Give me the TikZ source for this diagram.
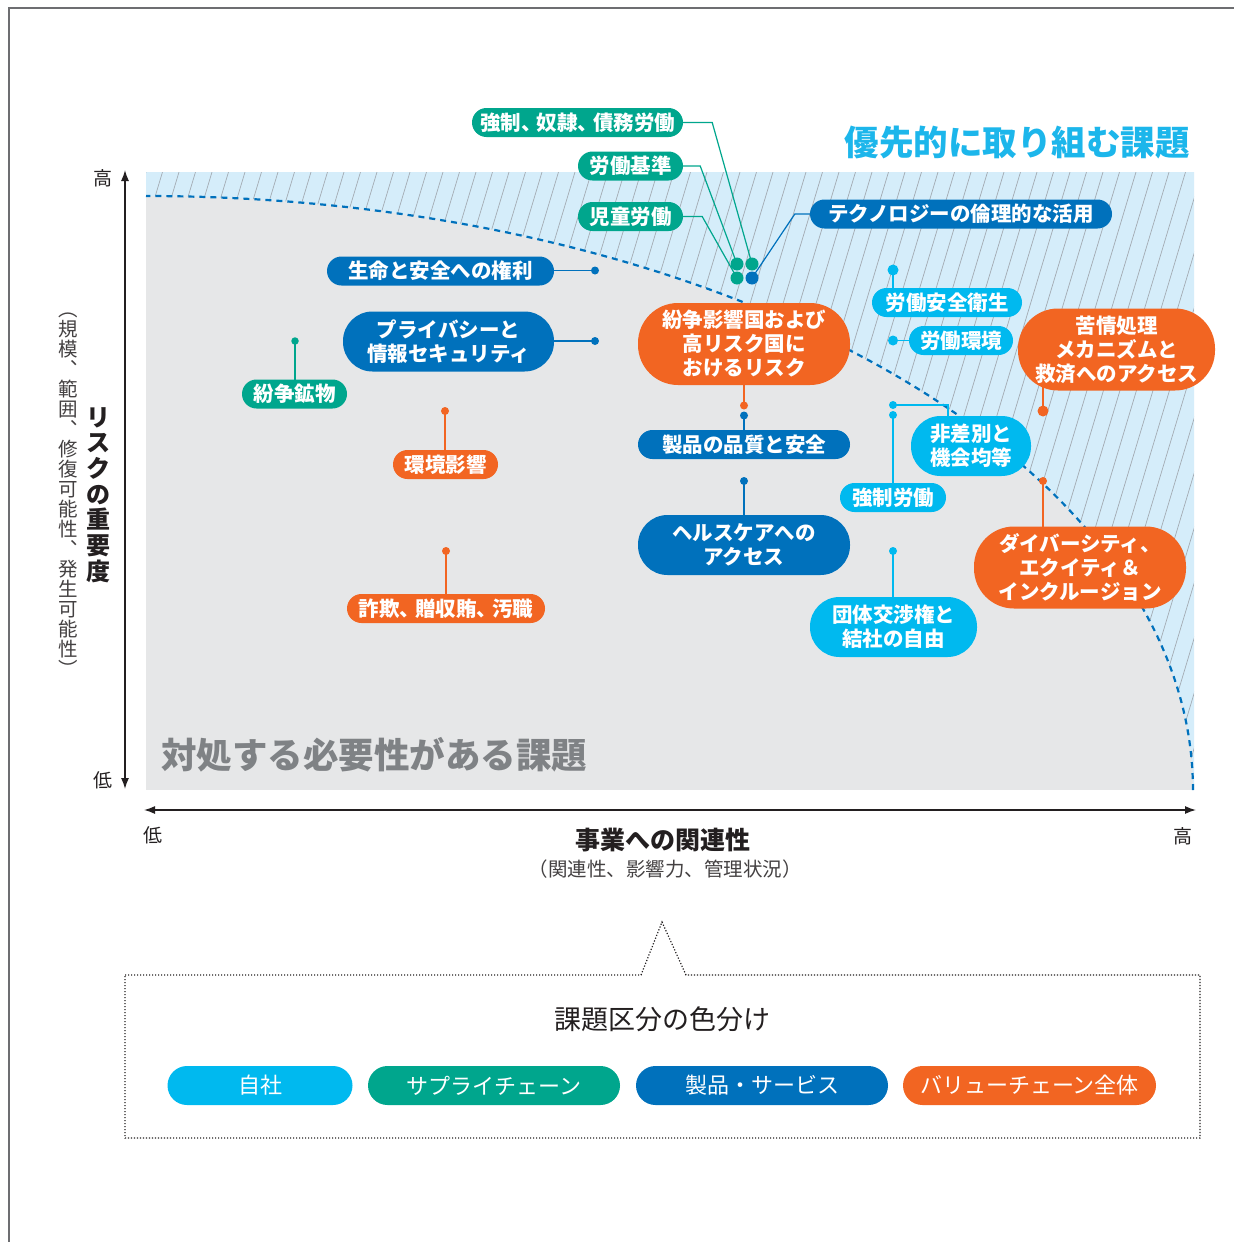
\documentclass[tikz,border=0pt]{standalone}
\usepackage{fontspec}
\setmainfont{Noto Sans CJK JP}
\usetikzlibrary{arrows.meta}
\definecolor{cyanc}{HTML}{00B9EF}
\definecolor{greenc}{HTML}{00A68D}
\definecolor{bluec}{HTML}{0071BC}
\definecolor{orangec}{HTML}{F26522}
\definecolor{plotgray}{HTML}{E6E7E8}
\definecolor{lightblue}{HTML}{D5EDFA}
\definecolor{hatchc}{HTML}{A3ABB3}
\definecolor{titlec}{HTML}{1CB6EB}
\definecolor{graytext}{HTML}{7F8285}
\definecolor{ink}{HTML}{231F20}
\definecolor{framec}{HTML}{6D6E71}
\pgfdeclarelayer{back}
\pgfdeclarelayer{mid}
\pgfsetlayers{back,mid,main}
\tikzset{
  pillA/.style={fill=#1, text=white, rounded corners=14.5pt, minimum height=29pt, inner sep=0pt,
    font=\fontsize{20.5}{24}\selectfont\bfseries, align=center},
  pillB/.style={fill=#1, text=white, rounded corners=29.5pt, minimum height=60pt, inner sep=0pt,
    font=\fontsize{20.5}{24}\selectfont\bfseries, align=center},
  pillC/.style={fill=#1, text=white, rounded corners=40pt, minimum height=82pt, inner sep=0pt,
    font=\fontsize{20.5}{24}\selectfont\bfseries, align=center},
  legpill/.style={fill=#1, text=white, rounded corners=19.5pt, minimum height=39pt, inner sep=0pt,
    font=\fontsize{22}{24}\selectfont},
  dotn/.style={circle, fill=#1, inner sep=0pt, minimum size=8pt},
  conn/.style={draw=#1, line width=1.2pt},
  axisline/.style={draw=ink, line width=1.4pt, {Latex[length=11pt,width=8pt]}-{Latex[length=11pt,width=8pt]}},
  axlab/.style={text=ink, inner sep=0pt, font=\fontsize{19}{20}\selectfont},
}
\begin{document}
\begin{tikzpicture}[x=1pt,y=-1pt]
\useasboundingbox (0,0) rectangle (1234,1242);

% ---------- background of the plot ----------
\begin{pgfonlayer}{back}
  \fill[white] (0,0) rectangle (1234,1242);
  \fill[plotgray] (146,172) rectangle (1194,790);
  \fill[lightblue] (146,172) -- (1194,172) -- (1194,790) --
     plot[domain=0:90, samples=90] ({146+1047*cos(\x)},{790-594*sin(\x)}) -- cycle;
  \begin{scope}
    \clip (146,172) -- (1194,172) -- (1194,790) --
     plot[domain=0:90, samples=90] ({146+1047*cos(\x)},{790-594*sin(\x)}) -- cycle;
    \foreach \i in {-1,...,76}{
      \draw[hatchc, line width=0.7pt] ({146+\i*16.5},172) -- ({146+\i*16.5-0.3*620},792);
    }
  \end{scope}
  \draw[bluec, line width=2.2pt, dash pattern=on 6pt off 5pt]
     plot[domain=0:90, samples=90] ({146+1047*cos(\x)},{790-594*sin(\x)});
  % frame
  \draw[framec, line width=1.5pt] (9,1242) -- (9,8) -- (1234,8);
\end{pgfonlayer}

% ---------- titles ----------
\node[text=titlec, inner sep=0pt, font=\fontsize{34.5}{40}\selectfont\bfseries] (ttl) at (1017,143) {優先的に取り組む課題};
\node[text=graytext, inner sep=0pt, anchor=west, font=\fontsize{35.5}{40}\selectfont\bfseries] (ttl2) at (161,755) {対処する必要性がある課題};

% ---------- axes ----------
\coordinate (ytop) at (125,170);
\coordinate (ybot) at (125,789);
\coordinate (xl) at (144,810);
\coordinate (xr) at (1196,810);
\draw[axisline] (ybot) -- (ytop);
\draw[axisline] (xl) -- (xr);
\node[axlab] (yhi) at (103,178) {高};
\node[axlab] (ylo) at (103,780) {低};
\node[axlab] (xlo) at (153,835) {低};
\node[axlab] (xhi) at (1183,836) {高};
\node[text=ink, inner sep=0pt, align=center, font=\fontsize{24}{25.7}\selectfont\bfseries] (ylab) at (98,495)
  {リ\\ス\\ク\\の\\重\\要\\度};
\node[text=ink!85, inner sep=0pt, align=center, font=\fontsize{19.5}{20}\selectfont] (ylab2) at (68,495)
  {︵\\規\\模\\︑\\範\\囲\\︑\\修\\復\\可\\能\\性\\︑\\発\\生\\可\\能\\性\\︶};
\node[text=ink, inner sep=0pt, font=\fontsize{25}{28}\selectfont\bfseries] (xlab) at (663,840) {事業への関連性};
\node[text=ink!85, inner sep=0pt, font=\fontsize{19.5}{22}\selectfont] (xlab2) at (665,869) {（関連性、影響力、管理状況）};

% ---------- issue pills ----------
\node[pillA=greenc, minimum width=211pt] (p1) at (577.5,122.5) {強制、\kern-5pt奴隷、\kern-5pt債務労働};
\node[pillA=greenc, minimum width=105pt] (p2) at (630.5,166) {労働基準};
\node[pillA=greenc, minimum width=105pt] (p3) at (630.5,216.5) {児童労働};
\node[pillA=bluec, minimum width=302pt] (p4) at (961,214) {テクノロジーの倫理的な活用};
\node[pillA=bluec, minimum width=227pt] (p5) at (440.5,271) {生命と安全への権利};
\node[pillB=bluec, minimum width=211pt] (p6) at (448.5,341.5) {プライバシーと\\情報セキュリティ};
\node[pillA=greenc, minimum width=105pt] (p7) at (294.5,394) {紛争鉱物};
\node[pillA=orangec, minimum width=105pt] (p8) at (445.5,464.5) {環境影響};
\node[pillA=orangec, minimum width=198pt] (p9) at (446,608.5) {詐欺、\kern-5pt贈収賄、\kern-5pt汚職};
\node[pillC=orangec, minimum width=212pt] (p10) at (744,344) {紛争影響国および\\高リスク国に\\おけるリスク};
\node[pillA=bluec, minimum width=212pt] (p11) at (744,444.5) {製品の品質と安全};
\node[pillB=bluec, minimum width=212pt] (p12) at (744,545) {ヘルスケアへの\\アクセス};
\node[pillA=cyanc, minimum width=150pt] (p13) at (947,302.5) {労働安全衛生};
\node[pillA=cyanc, minimum width=104pt] (p14) at (961,340.5) {労働環境};
\node[pillB=cyanc, minimum width=120pt] (p15) at (971,446) {非差別と\\機会均等};
\node[pillA=cyanc, minimum width=106pt] (p16) at (893,497.5) {強制労働};
\node[pillB=cyanc, minimum width=167pt] (p17) at (893.5,627) {団体交渉権と\\結社の自由};
\node[pillC=orangec, minimum width=197pt] (p18) at (1116.5,349.5) {苦情処理\\メカニズムと\\救済へのアクセス};
\node[pillC=orangec, minimum width=212pt] (p19) at (1080,567.5) {ダイバーシティ、\\エクイティ＆\\インクルージョン};

% ---------- dots ----------
\node[dotn=greenc, minimum size=13pt] (dtl) at (737,264) {};
\node[dotn=greenc, minimum size=13pt] (dtr) at (752,264) {};
\node[dotn=greenc, minimum size=13pt] (dbl) at (737,278) {};
\node[dotn=bluec, minimum size=13pt] (dbr) at (752,278) {};
\node[dotn=bluec] (d5) at (595,270.5) {};
\node[dotn=bluec] (d6) at (595,341) {};
\node[dotn=greenc, minimum size=7.5pt] (d7) at (295,341) {};
\node[dotn=orangec] (d8) at (445,411) {};
\node[dotn=orangec] (d9) at (446,551) {};
\node[dotn=orangec] (d10) at (744,405.5) {};
\node[dotn=bluec] (d11) at (744,415.5) {};
\node[dotn=bluec] (d12) at (744,481) {};
\node[dotn=cyanc, minimum size=11pt] (d13) at (893,270) {};
\node[dotn=cyanc, minimum size=10pt] (d14) at (893,340.5) {};
\node[dotn=cyanc] (d15) at (893,405) {};
\node[dotn=cyanc] (d16) at (893,415) {};
\node[dotn=cyanc] (d17) at (893,551) {};
\node[dotn=orangec, minimum size=11pt] (d18) at (1043,411) {};
\node[dotn=orangec] (d19) at (1043,481) {};
\coordinate (k15) at (948,405);

% ---------- connectors ----------
\begin{pgfonlayer}{mid}
  \draw[conn=greenc] (p1.east) -- ++(29,0) -- (dtr.center);
  \draw[conn=greenc] (p2.east) -- ++(17,0) -- (dtl.center);
  \draw[conn=greenc] (p3.east) -- ++(19,0) -- (dbl.center);
  \draw[conn=bluec] (p4.west) -- ++(-15,0) -- (dbr.center);
  \draw[conn=bluec] (d5.center) -- (d5 -| p5.center);
  \draw[conn=bluec] (d6.center) -- (d6 -| p6.center);
  \draw[conn=greenc] (d7.center) -- (d7 |- p7.center);
  \draw[conn=orangec] (d8.center) -- (d8 |- p8.center);
  \draw[conn=orangec] (d9.center) -- (d9 |- p9.center);
  \draw[conn=orangec] (d10.center) -- (d10 |- p10.center);
  \draw[conn=bluec] (d11.center) -- (d11 |- p11.center);
  \draw[conn=bluec] (d12.center) -- (d12 |- p12.center);
  \draw[conn=cyanc] (d13.center) -- (d13 |- p13.center);
  \draw[conn=cyanc] (d14.center) -- (d14 -| p14.center);
  \draw[conn=cyanc] (d15.center) -- (k15) -- (k15 |- p15.center);
  \draw[conn=cyanc] (d16.center) -- (d16 |- p16.center);
  \draw[conn=cyanc] (d17.center) -- (d17 |- p17.center);
  \draw[conn=orangec] (d18.center) -- (d18 |- p18.center);
  \draw[conn=orangec] (d19.center) -- (d19 |- p19.center);
\end{pgfonlayer}

% ---------- legend ----------
\draw[ink, line width=1.2pt, dash pattern=on 1.2pt off 1.8pt]
  (125,975) -- (641,975) -- (662,922) -- (686,975) -- (1200,975) -- (1200,1138) -- (125,1138) -- cycle;
\node[text=ink, inner sep=0pt, font=\fontsize{27}{30}\selectfont] (legt) at (662,1019) {課題区分の色分け};
\node[legpill=cyanc, minimum width=185pt] (l1) at (260,1085.5) {自社};
\node[legpill=greenc, minimum width=252pt] (l2) at (494,1085.5) {サプライチェーン};
\node[legpill=bluec, minimum width=252pt] (l3) at (762,1085.5) {製品・サービス};
\node[legpill=orangec, minimum width=253pt] (l4) at (1029.5,1085.5) {バリューチェーン全体};
\end{tikzpicture}
\end{document}
